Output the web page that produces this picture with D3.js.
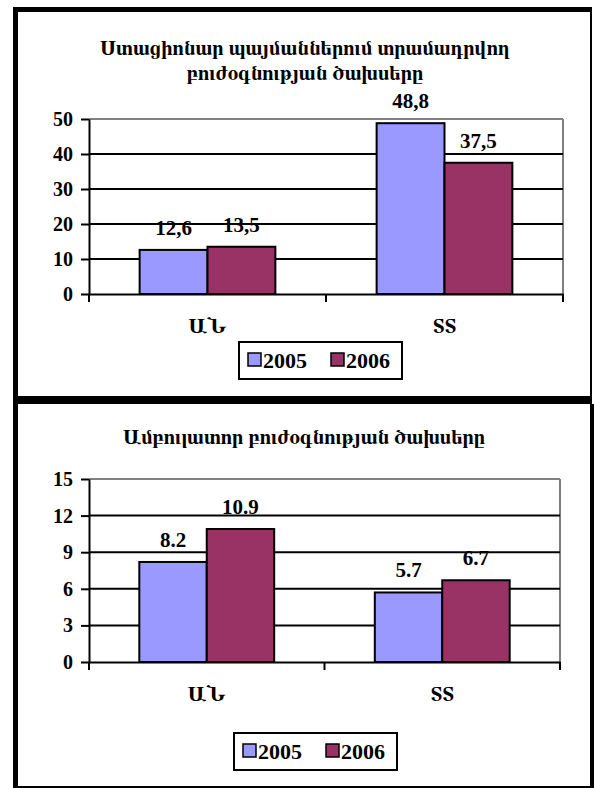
<!DOCTYPE html>
<html>
<head>
<meta charset="utf-8">
<script src="https://cdn.jsdelivr.net/npm/d3@7"></script>
<style>
  html, body { margin: 0; padding: 0; background: #fff; }
</style>
</head>
<body>
<svg id="chart" width="594" height="788"></svg>
<script>
// ---- data ----
const categories = ["ԱՆ", "ՏՏ"];
const seriesNames = ["2005", "2006"];
const seriesColors = ["#9999FF", "#993366"];

const inpatientTitle = ["Ստացիոնար պայմաններում տրամադրվող", "բուժօգնության ծախսերը"];
const inpatient2005 = [12.6, 48.8];
const inpatient2006 = [13.5, 37.5];
const inpatientLabels2005 = ["12,6", "48,8"];
const inpatientLabels2006 = ["13,5", "37,5"];
const inpatientTicks = [0, 10, 20, 30, 40, 50];

const outpatientTitle = ["Ամբուլատոր բուժօգնության ծախսերը"];
const outpatient2005 = [8.2, 5.7];
const outpatient2006 = [10.9, 6.7];
const outpatientLabels2005 = ["8.2", "5.7"];
const outpatientLabels2006 = ["10.9", "6.7"];
const outpatientTicks = [0, 3, 6, 9, 12, 15];

const FONT = "'Liberation Serif', 'FreeSerif', 'Noto Serif Armenian', serif";
const ARM_FONT = "'FreeSerif', 'Noto Serif Armenian', serif";

const svg = d3.select("#chart");

// ---- frame ----
svg.append("rect").attr("x", 13).attr("y", 7).attr("width", 5).attr("height", 781).attr("fill", "#000");
svg.append("rect").attr("x", 13).attr("y", 7).attr("width", 579).attr("height", 5).attr("fill", "#000");
svg.append("rect").attr("x", 13).attr("y", 396).attr("width", 579).attr("height", 8).attr("fill", "#000");
svg.append("rect").attr("x", 590).attr("y", 7).attr("width", 2).attr("height", 397).attr("fill", "#000");
svg.append("rect").attr("x", 590).attr("y", 404).attr("width", 4).attr("height", 384).attr("fill", "#000");
svg.append("rect").attr("x", 13).attr("y", 786).attr("width", 581).attr("height", 2).attr("fill", "#000");

function drawChart(cfg) {
  const g = svg.append("g");
  const x0 = d3.scaleBand().domain(categories).range([cfg.left, cfg.right]).padding(0);
  const x1 = d3.scaleBand().domain(seriesNames).range([0, x0.bandwidth()]).paddingInner(0).paddingOuter(0.746);
  const y = d3.scaleLinear().domain([0, cfg.max]).range([cfg.bottom, cfg.top]);

  // title
  cfg.title.forEach((t, i) => {
    g.append("text").attr("x", cfg.titleX).attr("y", cfg.titleY + i * 25)
      .attr("text-anchor", "middle").attr("font-family", ARM_FONT).attr("font-weight", "bold")
      .attr("font-size", cfg.titleSize).attr("fill", "#000").text(t);
  });

  // plot area border (gray top & right)
  g.append("line").attr("x1", cfg.left).attr("x2", cfg.right).attr("y1", y(cfg.max)).attr("y2", y(cfg.max))
    .attr("stroke", "#808080").attr("stroke-width", 2);
  g.append("line").attr("x1", cfg.right).attr("x2", cfg.right).attr("y1", y(cfg.max)).attr("y2", y(0))
    .attr("stroke", "#808080").attr("stroke-width", 2);

  // gridlines
  g.selectAll(".grid").data(cfg.ticks.filter(d => d > 0 && d < cfg.max)).enter().append("line")
    .attr("x1", cfg.left).attr("x2", cfg.right).attr("y1", d => y(d)).attr("y2", d => y(d))
    .attr("stroke", "#000").attr("stroke-width", 2);

  // bars
  const rows = categories.map((c, i) => ({ c, vals: [cfg.s1[i], cfg.s2[i]], labels: [cfg.l1[i], cfg.l2[i]] }));
  const grp = g.selectAll(".grp").data(rows).enter().append("g")
    .attr("transform", d => `translate(${x0(d.c)},0)`);
  grp.selectAll("rect").data(d => d.vals.map((v, j) => ({ s: seriesNames[j], v, j }))).enter().append("rect")
    .attr("x", d => x1(d.s)).attr("width", x1.bandwidth())
    .attr("y", d => y(d.v)).attr("height", d => y(0) - y(d.v))
    .attr("fill", d => seriesColors[d.j]).attr("stroke", "#000").attr("stroke-width", 2);
  grp.selectAll("text").data(d => d.vals.map((v, j) => ({ s: seriesNames[j], v, j, lab: d.labels[j] }))).enter().append("text")
    .attr("x", d => x1(d.s) + x1.bandwidth() / 2).attr("y", d => y(d.v) - 15)
    .attr("text-anchor", "middle").attr("font-family", FONT).attr("font-weight", "bold")
    .attr("font-size", 21).attr("fill", "#000").text(d => d.lab);

  // y axis
  const yAxis = g.append("g").attr("transform", `translate(${cfg.left},0)`)
    .call(d3.axisLeft(y).tickValues(cfg.ticks).tickSize(8).tickPadding(8).tickSizeOuter(0));
  yAxis.attr("font-family", FONT).attr("font-size", 20).attr("font-weight", "bold");
  yAxis.selectAll("path, line").attr("stroke", "#000").attr("stroke-width", 2);
  yAxis.selectAll("text").attr("fill", "#000");

  // x axis
  const xAxis = g.append("g").attr("transform", `translate(0,${cfg.bottom})`)
    .call(d3.axisBottom(x0).tickSize(0).tickPadding(cfg.catPad));
  xAxis.attr("font-family", FONT).attr("font-size", 21).attr("font-weight", "bold");
  xAxis.select(".domain").attr("stroke", "#000").attr("stroke-width", 2);
  xAxis.selectAll("text").attr("fill", "#000");
  const bounds = [cfg.left, ...categories.map(c => x0(c) + x0.bandwidth())];
  g.selectAll(".xt").data(bounds).enter().append("line")
    .attr("x1", d => d).attr("x2", d => d).attr("y1", cfg.bottom).attr("y2", cfg.bottom + 8)
    .attr("stroke", "#000").attr("stroke-width", 2);

  // legend
  const lg = g.append("g").attr("transform", `translate(${cfg.legX},${cfg.legY})`);
  lg.append("rect").attr("width", 163).attr("height", 37).attr("fill", "#fff").attr("stroke", "#000").attr("stroke-width", 2);
  const items = lg.selectAll(".li").data(seriesNames).enter().append("g")
    .attr("transform", (d, i) => `translate(${9 + i * 83},11)`);
  items.append("rect").attr("width", 13).attr("height", 13)
    .attr("fill", (d, i) => seriesColors[i]).attr("stroke", "#000").attr("stroke-width", 1.5);
  items.append("text").attr("x", 15).attr("y", 15).attr("font-family", FONT).attr("font-weight", "bold")
    .attr("font-size", 22).attr("fill", "#000").text(d => d);
}

drawChart({
  title: inpatientTitle, titleX: 305, titleY: 55, titleSize: 20.6,
  left: 89, right: 563, top: 119, bottom: 294, max: 50, ticks: inpatientTicks,
  s1: inpatient2005, s2: inpatient2006, l1: inpatientLabels2005, l2: inpatientLabels2006,
  catPad: 24, legX: 239, legY: 342
});

drawChart({
  title: outpatientTitle, titleX: 304, titleY: 444, titleSize: 20.6,
  left: 89, right: 560, top: 479, bottom: 662, max: 15, ticks: outpatientTicks,
  s1: outpatient2005, s2: outpatient2006, l1: outpatientLabels2005, l2: outpatientLabels2006,
  catPad: 24, legX: 234, legY: 733
});
</script>
</body>
</html>
